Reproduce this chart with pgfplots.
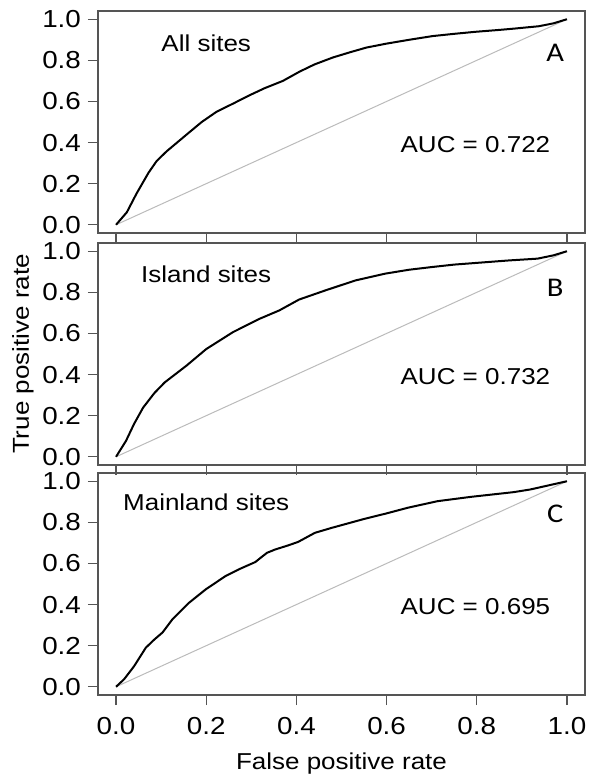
\documentclass[border=0pt]{standalone}
\usepackage{pgfplots}
\pgfplotsset{compat=1.18}
\usepackage{fontspec}
\setmainfont[FakeStretch=1.13]{Liberation Sans}
\newfontfamily\calib[FakeStretch=1.13]{Carlito}
\definecolor{framegray}{HTML}{555555}
\definecolor{diaggray}{HTML}{BBBBBB}

\pgfplotsset{
  rocpanel/.style={
    scale only axis,
    width=243.5pt, height=111pt,
    xmin=-0.04, xmax=1.04, ymin=-0.04, ymax=1.04,
    xtick={0,0.2,...,1}, ytick={0,0.2,...,1},
    xtick pos=bottom, ytick pos=left,
    tick align=outside, major tick length=5pt,
    axis line style={framegray, line width=0.7pt},
    every tick/.style={framegray, line width=0.7pt},
    tick label style={font=\fontsize{12.3}{14}\selectfont},
    xticklabel style={yshift=-2.5pt},
    /pgf/number format/assume math mode=true,
    /pgf/number format/fixed, /pgf/number format/fixed zerofill,
    /pgf/number format/precision=1,
    anchor=north west,
    clip=false,
  },
  diag/.style={diaggray, line width=0.5pt},
  roc/.style={black, line width=1pt},
}

\begin{document}
\begin{tikzpicture}
\tikzset{lbl/.style={font=\fontsize{11.5}{13}\selectfont, anchor=center},
         pnl/.style={font=\calib\fontsize{13.5}{15}\selectfont, anchor=center}}

% A: all sites
\begin{axis}[rocpanel, at={(0,0)}, xticklabels={}]
\addplot[diag] coordinates {(0,0) (1,1)};
\addplot[roc] coordinates {
(0,0) (0.024,0.061) (0.045,0.15) (0.072,0.253) (0.09,0.31) (0.112,0.357)
(0.156,0.438) (0.19,0.50) (0.223,0.55) (0.26,0.59) (0.296,0.63) (0.33,0.665)
(0.37,0.70) (0.407,0.745) (0.44,0.78) (0.481,0.814) (0.52,0.84) (0.555,0.862)
(0.599,0.881) (0.65,0.90) (0.702,0.918) (0.75,0.929) (0.798,0.939) (0.85,0.948)
(0.886,0.955) (0.938,0.966) (0.97,0.98) (1,1)};
\node[lbl] at (axis cs:0.2,0.885) {All sites};
\node[pnl] at (axis cs:0.974,0.837) {A};
\node[lbl] at (axis cs:0.797,0.39) {AUC = 0.722};
\end{axis}

% B: island sites
\begin{axis}[rocpanel, at={(0,-116pt)}, xticklabels={},
  ylabel={True positive rate},
  every axis y label/.style={at={(axis description cs:-0.154,0.5)}, rotate=90,
    anchor=center, font=\fontsize{11.5}{13}\selectfont}]
\addplot[diag] coordinates {(0,0) (1,1)};
\addplot[roc] coordinates {
(0,0) (0.022,0.077) (0.04,0.16) (0.06,0.239) (0.085,0.31) (0.108,0.362)
(0.156,0.443) (0.2,0.524) (0.259,0.606) (0.318,0.671) (0.362,0.712) (0.406,0.765)
(0.465,0.81) (0.531,0.858) (0.597,0.891) (0.65,0.91) (0.7,0.923) (0.75,0.935)
(0.81,0.945) (0.87,0.955) (0.935,0.964) (0.97,0.98) (1,1)};
\node[lbl] at (axis cs:0.2,0.89) {Island sites};
\node[pnl] at (axis cs:0.974,0.82) {B};
\node[lbl] at (axis cs:0.797,0.39) {AUC = 0.732};
\end{axis}

% C: mainland sites
\begin{axis}[rocpanel, at={(0,-231pt)},
  xlabel={False positive rate},
  every axis x label/.style={at={(axis description cs:0.5,-0.311)},
    anchor=center, font=\fontsize{11.5}{13}\selectfont}]
\addplot[diag] coordinates {(0,0) (1,1)};
\addplot[roc] coordinates {
(0,0) (0.018,0.037) (0.04,0.10) (0.066,0.19) (0.085,0.23) (0.103,0.264)
(0.125,0.328) (0.162,0.409) (0.199,0.474) (0.243,0.539) (0.272,0.571) (0.309,0.607)
(0.322,0.63) (0.335,0.652) (0.353,0.668) (0.382,0.688) (0.404,0.705) (0.441,0.749)
(0.478,0.773) (0.551,0.817) (0.599,0.843) (0.647,0.871) (0.713,0.903) (0.787,0.924)
(0.882,0.947) (0.919,0.96) (1,1)};
\node[lbl] at (axis cs:0.2,0.896) {Mainland sites};
\node[pnl] at (axis cs:0.974,0.84) {C};
\node[lbl] at (axis cs:0.797,0.39) {AUC = 0.695};
\end{axis}

\pgfresetboundingbox
\path (-49pt,5.5pt) rectangle (251.5pt,-386pt);
\end{tikzpicture}
\end{document}
